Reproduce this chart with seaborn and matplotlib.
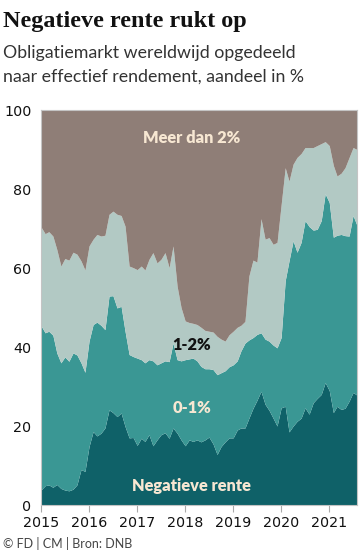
import pandas as pd
import matplotlib.pyplot as plt
import matplotlib.dates as mdates
import seaborn as sns

# Monthly shares of the global bond market by yield bucket (in %), Jan 2015 - Aug 2021.
months = pd.date_range("2015-01-01", periods=80, freq="MS")

negatief = [3.8, 4.9, 5.1, 4.5, 5.2, 4.2, 3.8, 3.6, 4.0, 5.1,
            9.0, 8.5, 14.8, 18.6, 17.5, 18.2, 19.5, 24.1, 23.4, 22.4,
            23.3, 19.9, 17.0, 17.1, 15.1, 16.9, 16.1, 17.8, 15.0, 16.5,
            17.8, 18.3, 16.9, 19.5, 18.2, 16.5, 15.0, 16.5, 16.1, 16.5,
            16.0, 16.5, 17.2, 15.5, 12.8, 14.8, 16.0, 17.0, 17.0, 19.0,
            19.5, 19.5, 22.0, 24.5, 26.5, 28.8, 25.5, 24.0, 22.0, 20.0,
            24.6, 25.0, 18.5, 20.0, 21.2, 22.0, 24.6, 23.0, 25.9, 27.0,
            28.0, 31.0, 29.0, 23.4, 25.0, 24.2, 24.5, 26.3, 28.5, 27.8]

nul_een = [41.6, 38.7, 38.9, 38.5, 33.3, 31.8, 33.7, 32.8, 34.5, 32.9,
           27.0, 25.1, 26.7, 27.1, 28.8, 27.3, 24.9, 28.8, 29.6, 27.5,
           27.0, 24.1, 21.1, 20.5, 22.1, 19.9, 19.9, 19.0, 21.5, 19.0,
           18.2, 18.2, 19.4, 21.5, 18.6, 20.0, 21.8, 20.5, 21.1, 20.0,
           19.1, 18.0, 17.3, 18.8, 20.2, 18.7, 18.0, 18.0, 18.5, 17.5,
           19.5, 21.5, 19.8, 17.9, 16.7, 14.8, 16.5, 17.5, 18.5, 19.8,
           17.8, 31.8, 43.3, 46.9, 42.8, 44.5, 47.4, 47.5, 43.7, 42.8,
           44.0, 47.8, 47.6, 44.4, 43.3, 44.3, 43.7, 41.8, 44.8, 42.9]

een_twee = [25.0, 25.1, 25.2, 25.1, 26.2, 24.5, 24.9, 25.6, 25.5, 25.5,
            25.8, 25.9, 24.1, 21.6, 22.2, 22.6, 23.9, 20.7, 21.4, 23.7,
            23.0, 26.6, 22.4, 22.5, 22.4, 23.7, 23.5, 25.4, 27.4, 25.8,
            26.2, 27.4, 23.8, 24.6, 18.6, 13.5, 9.8, 9.2, 8.8, 9.2,
            9.9, 9.7, 9.5, 9.5, 9.7, 8.5, 7.5, 8.1, 8.5, 8.5,
            6.5, 5.5, 16.2, 19.6, 18.3, 28.9, 25.3, 26.2, 25.5, 26.7,
            33.6, 28.6, 20.2, 19.4, 24.0, 22.5, 18.5, 20.0, 20.9, 21.2,
            19.5, 13.2, 14.4, 18.2, 15.0, 15.5, 17.2, 19.9, 17.2, 19.3]

meer_dan_twee = [29.6, 31.3, 30.8, 31.9, 35.3, 39.5, 37.6, 38.0, 36.0, 36.5,
                 38.2, 40.5, 34.4, 32.7, 31.5, 31.9, 31.7, 26.4, 25.6, 26.4,
                 26.7, 29.4, 39.5, 39.9, 40.4, 39.5, 40.5, 37.8, 36.1, 38.7,
                 37.8, 36.1, 39.9, 34.4, 44.6, 50.0, 53.4, 53.8, 54.0, 54.3,
                 55.0, 55.8, 56.0, 56.2, 57.3, 58.0, 58.5, 56.9, 56.0, 55.0,
                 54.5, 53.5, 42.0, 38.0, 38.5, 27.5, 32.7, 32.3, 34.0, 33.5,
                 24.0, 14.6, 18.0, 13.7, 12.0, 11.0, 9.5, 9.5, 9.5, 9.0,
                 8.5, 8.0, 9.0, 14.0, 16.7, 16.0, 14.6, 12.0, 9.5, 10.0]

categories = ["Negatieve rente", "0-1%", "1-2%", "Meer dan 2%"]
colors = ["#0f6168", "#3a9794", "#b2c9c4", "#8f7e77"]
label_colors = ["#f7e7d2", "#f7e7d2", "#111111", "#f7e7d2"]
label_values = [4.8, 24.6, 40.5, 93.0]

df = pd.DataFrame({
    "Negatieve rente": negatief,
    "0-1%": nul_een,
    "1-2%": een_twee,
    "Meer dan 2%": meer_dan_twee,
}, index=months)

sns.set_theme(style="white")
plt.rcParams["font.family"] = ["Lato", "DejaVu Sans"]

fig = plt.figure(figsize=(3.6, 5.54), dpi=100)
ax = fig.add_axes([0.114, 0.0884, 0.878, 0.713])

ax.stackplot(df.index, [df[c] for c in categories], colors=colors, linewidth=0)

# Labels inside the areas.
label_x = pd.Timestamp("2018-02-20")
for name, val, col in zip(categories, label_values, label_colors):
    ax.text(label_x, val, name, color=col, fontsize=11.8, fontweight="heavy",
            ha="center", va="center")

ax.set_xlim(months[0], months[-1])
ax.set_ylim(0, 100)
ax.set_yticks([0, 20, 40, 60, 80, 100])
ax.xaxis.set_major_locator(mdates.YearLocator())
ax.xaxis.set_major_formatter(mdates.DateFormatter("%Y"))
ax.tick_params(axis="x", length=5, width=0.8, color="#aaaaaa", labelsize=10.3,
               labelcolor="#111111", pad=3, bottom=True)
ax.tick_params(axis="y", length=0, labelsize=10.3, labelcolor="#111111", pad=7)
for lbl in ax.get_xticklabels() + ax.get_yticklabels():
    lbl.set_family("DejaVu Sans")
for spine in ax.spines.values():
    spine.set_color("#c4c4c4")
    spine.set_linewidth(0.8)
ax.set_xlabel("")
ax.set_ylabel("")

fig.text(0.008, 0.951, "Negatieve rente rukt op", family="Liberation Serif",
         fontsize=17.4, fontweight="bold", color="#111111", va="baseline")
fig.text(0.008, 0.895, "Obligatiemarkt wereldwijd opgedeeld", fontsize=12.8,
         color="#333333", va="baseline")
fig.text(0.008, 0.8525, "naar effectief rendement, aandeel in %", fontsize=12.8,
         color="#333333", va="baseline")
fig.text(0.008, 0.011, "\u00a9 FD | CM | Bron: DNB", fontsize=9,
         color="#444444", va="baseline")

fig.savefig("out.png", dpi=100)
